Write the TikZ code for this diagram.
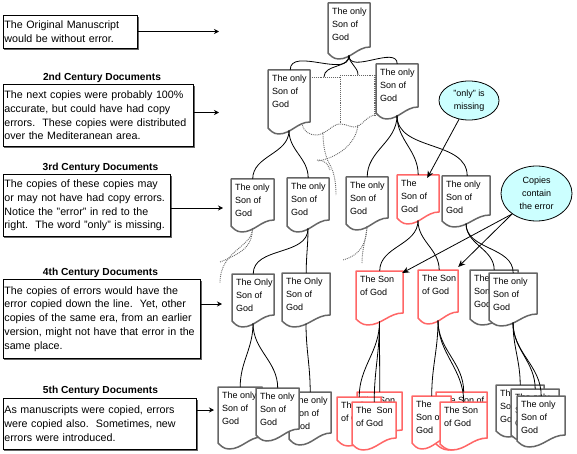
\documentclass[tikz,border=0pt]{standalone}
\usepackage{fontspec}
\setmainfont{Liberation Sans}
\usetikzlibrary{calc, arrows.meta, shapes.geometric, shadows}
\definecolor{docGray}{HTML}{666666}
\definecolor{docRed}{HTML}{FF6666}
\definecolor{ovalCyan}{HTML}{CCFFFF}
\frenchspacing
\tikzset{
	docframe/.style={anchor=north west, inner sep=0pt},
	docline/.style={line width=1.5pt, fill=white, line join=round},
	doctext/.style={anchor=north west, inner sep=0pt, align=left, font=\fontsize{9}{13}\selectfont},
	link/.style={black, line width=0.8pt},
	ghost/.style={docGray, line width=0.9pt, densely dotted},
	notebox/.style={anchor=north west, draw=black, line width=0.8pt, fill=white, inner xsep=1.5pt, inner ysep=0pt, align=left,
		font=\fontsize{10.7}{13.8}\selectfont, general shadow={shadow xshift=1.5pt, shadow yshift=-1.5pt, fill=docGray}},
	heading/.style={inner sep=0pt, font=\fontsize{10.2}{12}\selectfont\bfseries},
	note/.style={black, line width=0.8pt, -{Stealth[length=5pt, width=5pt]}},
	oval/.style={ellipse, draw=black, line width=0.8pt, fill=ovalCyan, inner sep=0pt, align=center, font=\fontsize{9}{13}\selectfont},
	pointer/.style={black, line width=0.8pt, -{Stealth[length=7pt, width=6pt]}}
}
% one sheet: name, left, top, width, height of the right edge, text
\newcommand{\docnode}[7][docGray]{
	\begin{scope}[shift={(#3,-#4)}]
		\node[docframe, minimum width=#5pt, minimum height=#6pt] (#2) at (0,0) {};
		\draw[docline, draw=#1] (0,0) -- (#5,0) -- (#5,-#6)
			.. controls ({.7*#5},-#6) and ({.55*#5},{-#6-12}) .. ({.25*#5},{-#6-12})
			.. controls ({.12*#5},{-#6-12}) and ({.05*#5},{-#6-8}) .. (0,{-#6-6}) -- cycle;
		\coordinate (#2-tail) at ({.5*#5},{-#6-8.5});
		\node[doctext] (#2-text) at (4,-4.5) {#7};
	\end{scope}
}
\begin{document}
\begin{tikzpicture}[x=1pt, y=1pt]
	\useasboundingbox (0,0) rectangle (577,-454);

	% Dotted sheets that were lost
	\coordinate (ghosta) at (324,-77);
	\coordinate (ghostb) at (358,-75);
	\draw[ghost] (310,-77) -- (340,-77) (340,-75) -- (375,-75) (340,-75) -- (340,-124);
	\draw[ghost, line width=1.4pt] (375,-75) -- (375,-115);
	\draw[ghost] (302,-123) .. controls (303,-132) and (310,-135) .. (316,-135)
		.. controls (326,-135) and (332,-124) .. (340,-124)
		.. controls (346,-124) and (350,-127) .. (354,-127)
		.. controls (362,-127) and (366,-116) .. (375,-115);
	\draw[ghost] (358,-125) .. controls (356,-145) and (336,-158) .. (318,-161);
	\draw[ghost] (323,-132) .. controls (323,-148) and (326,-158) .. (330,-165)
		.. controls (334,-172) and (336,-182) .. (336,-195);
	\draw[ghost] (317,-160) .. controls (326,-160) and (328,-165) .. (330,-170);

	% First copy down to fourth century
	\docnode{d1}{328}{3}{42}{44}{The only\\Son of\\God}
	\docnode{d2a}{268}{70}{42}{52}{The only\\Son of\\God}
	\docnode{d2b}{376}{64}{42}{43}{The only\\Son of\\God}
	\docnode{d3a}{231}{179}{43}{41}{The only\\Son of\\God}
	\docnode{d3b}{287}{178}{42}{42}{The only\\Son of\\God}
	\docnode{d3c}{346}{177}{42}{41}{The only\\Son of\\God}
	\docnode[docRed]{d3d}{397}{175}{42}{37}{The\\Son of\\God}
	\docnode{d3e}{442}{176}{48}{39}{The only\\Son of\\God}
	\docnode{d4a}{232}{274}{42}{41}{The Only\\Son of\\God}
	\docnode{d4b}{282}{273}{48}{42}{The Only\\Son of\\God}
	\docnode[docRed]{d4c}{356}{271}{47}{42}{The Son\\of God}
	\docnode[docRed]{d4d}{418}{270}{40}{42}{The Son\\of God}
	\docnode{d4e}{470}{270}{48}{43}{The only\\Son of\\God}
	\docnode{d4f}{489}{273}{48}{41}{The only\\Son of\\God}

	% Fifth century piles
	\docnode{d5c}{289}{392}{42}{41}{The only\\Son of\\God}
	\docnode{d5a}{218}{387}{44}{50}{The only\\Son of\\God}
	\docnode{d5b}{256}{388}{43}{41}{The only\\Son of\\God}
	\docnode[docRed]{d5d}{357}{392}{45}{38}{The Son\\of God}
	\docnode[docRed]{d5e}{337}{397}{44}{37}{The Son\\of God}
	\docnode[docRed]{d5f}{352}{402}{44}{36}{The~ Son\\of God}
	\docnode[docRed]{d5g}{436}{392}{51}{46}{The Son of\\God}
	\docnode[docRed]{d5h}{412}{396}{39}{41}{The\\Son of\\God}
	\docnode[docRed]{d5i}{440}{402}{47}{36}{The Son\\of God}
	\docnode{d5j}{496}{385}{48}{40}{The only\\Son of\\God}
	\docnode{d5k}{511}{389}{48}{40}{The only\\Son of\\God}
	\docnode{d5l}{517}{396}{48}{39}{The only\\Son of\\God}

	% Copy lines
	\foreach \from/\to/\dx in {d1/d2a/1, d1/d2b/0, d2a/d3a/0, d2a/d3b/0, d2b/d3c/0, d2b/d3d/0, d2b/d3e/1,
		d3b/d4a/0, d3b/d4b/0, d3d/d4c/0, d3d/d4d/1, d3e/d4e/0, d3e/d4f/0,
		d4a/d5a/0, d4a/d5b/0, d4b/d5c/0, d4c/d5d/0, d4c/d5e/0, d4c/d5f/0,
		d4d/d5g/2, d4d/d5h/0, d4d/d5i/0, d4f/d5j/0, d4f/d5k/0, d4f/d5l/0}{
		\draw[link] (\from-tail) to[out=-90, in=90] ([xshift=\dx pt]\to.north);
	}
	\draw[link] (d1-tail) to[out=-90, in=90] (ghosta);
	\draw[link] (d1-tail) to[out=-90, in=90] (ghostb);

	% Dotted lines of lost copies
	\draw[ghost] (d3a-tail) .. controls (252,-245) and (245,-252) .. (220,-262);
	\draw[ghost] (d3a-tail) .. controls (252,-248) and (220,-250) .. (220,-283);
	\draw[ghost] (d3c-tail) .. controls (366,-245) and (360,-255) .. (343,-260);
	\draw[ghost] (d3c-tail) .. controls (366,-240) and (362,-248) .. (362,-263);

	% Notes on the left
	\node[notebox, text width=131.5pt, minimum height=33pt] (note1) at (2.5,-15) {The Original Manuscript\\would be without error.};
	\node[notebox, text width=187.5pt, minimum height=62pt] (note2) at (2.5,-84) {The next copies were probably 100\%\\accurate, but could have had copy\\errors.~ These copies were distributed\\over the Mediteranean area.\par\vspace{3pt}};
	\node[notebox, text width=164.5pt, minimum height=62pt] (note3) at (2.5,-174) {The copies of these copies may\\or may not have had copy errors.\\Notice the "error" in red to the\\right.~ The word "only" is missing.\par\vspace{3pt}};
	\node[notebox, text width=194.5pt, minimum height=79pt] (note4) at (2.5,-279) {The copies of errors would have the\\error copied down the line.~ Yet, other\\copies of the same era, from an earlier\\version, might not have that error in the\\same place.\par\vspace{6pt}};
	\node[notebox, text width=190.5pt, minimum height=51pt] (note5) at (2.5,-398) {As manuscripts were copied, errors\\were copied also.~ Sometimes, new\\errors were introduced.\par\vspace{10pt}};

	\node[heading] (head2) at (102,-78) {2nd Century Documents};
	\node[heading] (head3) at (100.5,-168) {3rd Century Documents};
	\node[heading] (head4) at (100.5,-273) {4th Century Documents};
	\node[heading] (head5) at (100.5,-391) {5th Century Documents};

	\coordinate (tip1) at (219,-31.5);
	\coordinate (tip2) at (219,-112.5);
	\coordinate (tip3) at (223,-208);
	\coordinate (tip4) at (222,-304);
	\coordinate (tip5) at (214,-410);
	\foreach \n in {1,...,5}{
		\draw[note] (note\n.east |- tip\n) -- (tip\n);
	}

	% Ovals
	\node[oval, minimum width=60pt, minimum height=39pt] (onlyoval) at (469,-100.5) {"only" is\\missing};
	\node[oval, minimum width=71pt, minimum height=55pt] (copiesoval) at (536.5,-193.5) {Copies\\contain\\the error};
	\draw[pointer] (onlyoval.-118) -- ([xshift=9pt, yshift=-3pt]d3d.north);
	\draw[pointer] (copiesoval.220) -- ([xshift=22.5pt, yshift=-2pt]d4c.north);
	\draw[pointer] (copiesoval.220) -- ([xshift=20pt, yshift=3pt]d4d.north);
\end{tikzpicture}
\end{document}
